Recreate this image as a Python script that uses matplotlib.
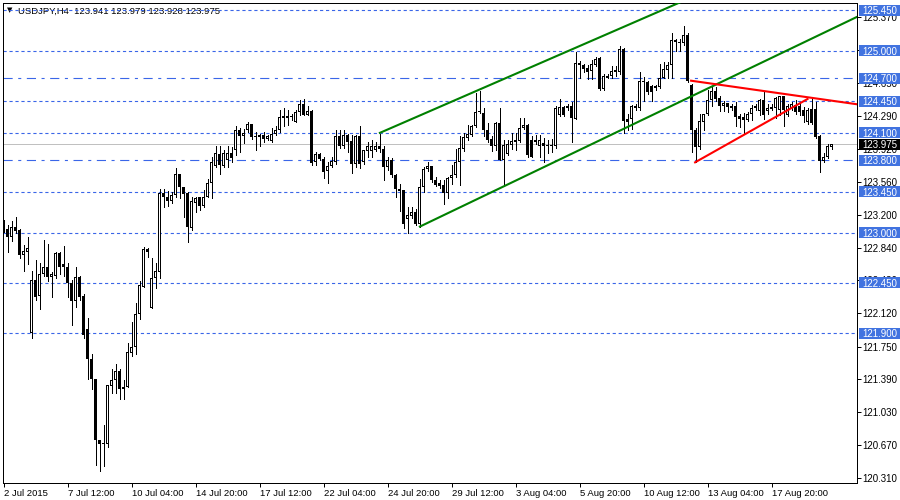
import matplotlib
matplotlib.use('Agg')
import matplotlib.pyplot as plt
from matplotlib.patches import Rectangle
import numpy as np

plt.rcParams['font.family'] = ['Liberation Sans', 'DejaVu Sans']
plt.rcParams['lines.scale_dashes'] = False

# ---------------- data (USDJPY H4) ----------------
opens = [123.12, 123.04, 122.95, 123.07, 123.03, 122.76, 122.79, 121.90, 122.48, 122.31,
         122.55, 122.63, 122.52, 122.53, 122.78, 122.66, 122.63, 122.45, 122.25, 122.52,
         122.31, 121.94, 121.61, 121.40, 120.73, 120.68, 120.68, 121.32, 121.38, 121.48,
         121.29, 121.31, 121.68, 121.75, 122.11, 122.41, 122.82, 122.17, 122.50, 122.57,
         123.44, 123.40, 123.35, 123.42, 123.65, 123.50, 123.44, 123.05, 123.33, 123.39,
         123.30, 123.40, 123.55, 123.74, 123.87, 123.74, 123.80, 123.88, 123.91, 124.13,
         124.06, 124.13, 124.20, 124.06, 124.05, 124.075, 124.03, 124.01, 124.09, 124.13,
         124.28, 124.28, 124.285, 124.22, 124.33, 124.42, 124.295, 124.34, 123.78, 123.87,
         123.81, 123.68, 123.74, 123.78, 124.06, 123.95, 124.075, 124.01, 123.76, 124.06,
         123.78, 123.90, 123.90, 123.91, 123.96, 123.92, 123.72, 123.80, 123.635, 123.48,
         123.47, 123.15, 123.19, 123.225, 123.10, 123.50, 123.70, 123.735, 123.58, 123.55,
         123.525, 123.44, 123.60, 123.635, 123.78, 123.92, 124.04, 124.075, 124.17, 124.34,
         124.32, 124.13, 124.03, 123.96, 124.21, 123.80, 123.87, 123.965, 124.00, 124.013,
         124.15, 124.185, 124.02, 124.02, 123.95, 123.99, 123.965, 123.95, 123.95, 124.295,
         124.38, 124.37, 124.39, 124.25, 124.87, 124.845, 124.81, 124.78, 124.845, 124.92,
         124.58, 124.72, 124.72, 124.79, 124.765, 125.02, 124.25, 124.25, 124.37, 124.37,
         124.67, 124.66, 124.61, 124.59, 124.60, 124.70, 124.79, 124.845, 125.115, 125.10,
         125.085, 125.18, 124.63, 124.13, 123.94, 124.22, 124.31, 124.46, 124.56, 124.48,
         124.39, 124.425, 124.37, 124.39, 124.285, 124.27, 124.24, 124.31, 124.37, 124.34,
         124.46, 124.34, 124.36, 124.37, 124.35, 124.50, 124.295, 124.375, 124.41, 124.39,
         124.35, 124.22, 124.36, 124.36, 124.06, 123.79, 123.84, 123.941]
highs = [123.14, 123.085, 123.13, 123.17, 123.04, 122.87, 122.96, 122.58, 122.70, 122.67,
         122.92, 122.88, 122.57, 122.79, 122.79, 122.86, 122.67, 122.48, 122.63, 122.53,
         122.33, 122.06, 121.67, 121.40, 120.73, 120.885, 121.325, 121.51, 121.56, 121.51,
         121.38, 121.79, 122.02, 122.23, 122.47, 122.85, 122.84, 122.73, 122.67, 123.48,
         123.48, 123.46, 123.45, 123.71, 123.65, 123.50, 123.45, 123.39, 123.40, 123.40,
         123.47, 123.59, 123.83, 123.96, 123.95, 123.91, 123.95, 123.94, 124.17, 124.15,
         124.14, 124.22, 124.20, 124.11, 124.085, 124.11, 124.075, 124.15, 124.17, 124.35,
         124.37, 124.35, 124.31, 124.35, 124.46, 124.47, 124.39, 124.35, 123.89, 123.88,
         123.84, 123.78, 123.84, 124.13, 124.13, 124.13, 124.09, 124.075, 124.075, 124.17,
         123.91, 124.00, 124.02, 124.00, 124.09, 123.95, 123.84, 123.82, 123.65, 123.54,
         123.47, 123.29, 123.28, 123.26, 123.59, 123.73, 123.775, 123.735, 123.62, 123.58,
         123.58, 123.62, 123.745, 123.92, 124.06, 124.10, 124.185, 124.185, 124.54, 124.56,
         124.37, 124.21, 124.06, 124.22, 124.37, 124.02, 124.02, 124.10, 124.10, 124.26,
         124.26, 124.20, 124.06, 124.075, 124.075, 124.04, 124.02, 124.03, 124.39, 124.47,
         124.39, 124.415, 124.44, 124.99, 124.89, 124.86, 124.845, 124.90, 124.93, 124.93,
         124.75, 124.75, 124.83, 124.83, 125.05, 125.03, 124.31, 124.405, 124.415, 124.77,
         124.71, 124.67, 124.625, 124.625, 124.86, 124.88, 124.88, 125.20, 125.13, 125.13,
         125.27, 125.20, 124.64, 124.15, 124.31, 124.31, 124.57, 124.61, 124.605, 124.50,
         124.45, 124.43, 124.415, 124.44, 124.31, 124.32, 124.33, 124.41, 124.415, 124.47,
         124.56, 124.415, 124.415, 124.49, 124.50, 124.50, 124.415, 124.44, 124.46, 124.43,
         124.38, 124.37, 124.48, 124.44, 124.075, 123.88, 123.98, 123.979]
lows = [123.01, 122.79, 122.91, 123.00, 122.73, 122.58, 122.66, 121.85, 122.26, 122.16,
        122.53, 122.47, 122.30, 122.51, 122.55, 122.53, 122.30, 121.99, 122.19, 122.26,
        121.85, 121.39, 121.29, 120.445, 120.38, 120.44, 120.65, 121.24, 121.24, 121.17,
        121.17, 121.31, 121.65, 121.67, 122.05, 122.41, 122.74, 122.17, 122.40, 122.51,
        123.28, 123.30, 123.33, 123.40, 123.38, 123.17, 122.90, 123.03, 123.23, 123.25,
        123.28, 123.39, 123.38, 123.72, 123.65, 123.72, 123.72, 123.78, 123.855, 123.89,
        123.99, 124.11, 124.03, 123.91, 123.95, 124.00, 124.02, 124.00, 124.075, 124.11,
        124.17, 124.185, 124.24, 124.22, 124.295, 124.295, 124.295, 123.745, 123.745, 123.80,
        123.60, 123.55, 123.73, 123.76, 123.93, 123.93, 123.89, 123.66, 123.73, 123.71,
        123.76, 123.84, 123.84, 123.90, 123.89, 123.58, 123.69, 123.62, 123.40, 123.24,
        123.05, 123.00, 123.16, 123.085, 123.07, 123.45, 123.68, 123.56, 123.52, 123.49,
        123.32, 123.38, 123.54, 123.62, 123.525, 123.90, 124.02, 124.06, 124.16, 124.32,
        124.06, 124.00, 123.90, 123.91, 123.80, 123.52, 123.855, 123.92, 123.91, 124.00,
        124.14, 123.84, 123.84, 123.98, 123.84, 123.78, 123.875, 123.89, 123.93, 124.29,
        124.285, 124.35, 124.00, 124.25, 124.70, 124.77, 124.69, 124.69, 124.84, 124.57,
        124.57, 124.70, 124.70, 124.72, 124.75, 124.10, 124.13, 124.14, 124.35, 124.35,
        124.45, 124.53, 124.45, 124.57, 124.59, 124.70, 124.70, 124.70, 125.00, 125.00,
        125.07, 124.66, 123.89, 123.775, 123.92, 124.13, 124.295, 124.39, 124.45, 124.34,
        124.34, 124.33, 124.35, 124.175, 124.16, 124.085, 124.23, 124.24, 124.35, 124.295,
        124.25, 124.305, 124.35, 124.26, 124.295, 124.17, 124.28, 124.35, 124.305, 124.30,
        124.215, 124.20, 124.20, 124.04, 123.67, 123.78, 123.82, 123.928]
closes = [123.02, 122.95, 123.07, 123.02, 122.76, 122.80, 122.83, 122.48, 122.30, 122.55,
          122.63, 122.52, 122.55, 122.78, 122.63, 122.63, 122.45, 122.25, 122.52, 122.30,
          121.875, 121.61, 121.40, 120.73, 120.68, 120.69, 121.325, 121.38, 121.48, 121.29,
          121.31, 121.69, 121.75, 122.11, 122.43, 122.82, 122.79, 122.50, 122.58, 123.44,
          123.40, 123.35, 123.415, 123.65, 123.50, 123.43, 123.06, 123.35, 123.38, 123.30,
          123.40, 123.55, 123.78, 123.88, 123.75, 123.88, 123.88, 123.82, 124.13, 124.06,
          124.10, 124.20, 124.05, 124.05, 124.075, 124.03, 124.06, 124.09, 124.13, 124.27,
          124.26, 124.26, 124.27, 124.33, 124.42, 124.295, 124.34, 123.77, 123.87, 123.81,
          123.67, 123.74, 123.79, 124.06, 123.95, 124.075, 124.00, 123.76, 124.06, 123.76,
          123.91, 123.96, 123.96, 123.96, 123.92, 123.72, 123.80, 123.635, 123.48, 123.46,
          123.10, 123.195, 123.225, 123.10, 123.50, 123.70, 123.735, 123.58, 123.525, 123.52,
          123.44, 123.60, 123.635, 123.78, 123.93, 124.05, 124.085, 124.17, 124.33, 124.325,
          124.13, 124.02, 123.96, 124.21, 123.80, 123.965, 123.975, 124.01, 124.02, 124.15,
          124.185, 123.855, 123.84, 124.00, 124.02, 123.95, 123.95, 123.965, 124.375, 124.38,
          124.30, 124.395, 124.26, 124.87, 124.845, 124.80, 124.77, 124.86, 124.91, 124.58,
          124.72, 124.70, 124.78, 124.765, 125.02, 124.23, 124.215, 124.39, 124.395, 124.67,
          124.66, 124.55, 124.55, 124.61, 124.70, 124.80, 124.845, 125.12, 125.095, 125.085,
          125.18, 124.67, 124.13, 123.94, 124.23, 124.31, 124.46, 124.56, 124.47, 124.39,
          124.43, 124.38, 124.39, 124.27, 124.25, 124.24, 124.31, 124.375, 124.39, 124.46,
          124.295, 124.37, 124.38, 124.48, 124.50, 124.35, 124.395, 124.415, 124.33, 124.33,
          124.29, 124.35, 124.21, 124.05, 123.79, 123.84, 123.95, 123.975]

x_tick_pos = [0, 16, 32, 48, 64, 80, 96, 112, 128, 144, 160, 176, 192]
x_tick_labels = ['2 Jul 2015', '7 Jul 12:00', '10 Jul 04:00', '14 Jul 20:00', '17 Jul 12:00',
                 '22 Jul 04:00', '24 Jul 20:00', '29 Jul 12:00', '3 Aug 04:00', '5 Aug 20:00',
                 '10 Aug 12:00', '13 Aug 04:00', '17 Aug 20:00']
y_ticks = [120.310, 120.670, 121.030, 121.390, 121.750, 122.120, 122.480, 122.840,
           123.200, 123.560, 123.920, 124.290, 124.650, 125.010, 125.370]

level_prices = [125.450, 125.000, 124.700, 124.450, 124.100, 123.800, 123.450, 123.000, 122.450, 121.900]
level_styles = ['dot', 'dot', 'dashdot', 'dot', 'dot', 'dashdot', 'dot', 'dot', 'dot', 'dot']
bid_price = 123.975

green_upper_x = [94.1, 213.4]
green_upper_y = [124.10, 126.38]
green_lower_x = [104.1, 213.4]
green_lower_y = [123.07, 125.375]
red_upper_x = [171.9, 213.4]
red_upper_y = [124.673, 124.414]
red_lower_x = [172.9, 201.0]
red_lower_y = [123.776, 124.472]

title = 'USDJPY,H4  123.941 123.979 123.928 123.975'

# ---------------- figure ----------------
BLUE = '#3A66E8'
FS = 6.8
PX = 1 / 91  # one pixel in price units
fig = plt.figure(figsize=(9, 5), dpi=100)
fig.patch.set_facecolor('white')
ax = fig.add_axes([3 / 900, 17 / 500, 854 / 900, 480 / 500])
ax.set_facecolor('white')
ax.set_xlim(-0.125, 213.375)
ax.set_ylim(120.252, 125.527)

for s in ax.spines.values():
    s.set_linewidth(0.72)
    s.set_color('black')

dash_styles = {'dot': (0, (2.3, 2.0)), 'dashdot': (0, (6.6, 4.0, 2.2, 4.0))}
for p, st in zip(level_prices, level_styles):
    ax.axhline(p, color=BLUE, linewidth=0.8, linestyle=dash_styles[st], zorder=2,
               antialiased=True, snap=True, dash_capstyle='butt')
ax.axhline(bid_price, color='#C0C0C0', linewidth=0.7, zorder=1.5, antialiased=False)

# candles
o = np.array(opens); h = np.array(highs); l = np.array(lows); c = np.array(closes)
idx = np.arange(len(o))
ax.vlines(idx, l, h, color='black', linewidth=0.72, zorder=3, antialiased=False)
up = c >= o
bottom = np.minimum(o, c)
height = np.maximum(np.abs(c - o), PX)
ax.bar(idx, height, bottom=bottom, width=0.75, color='black', linewidth=0,
       zorder=4, antialiased=False)
hollow = up & (height > 2.5 * PX)
ax.bar(idx[hollow], height[hollow] - 2 * PX, bottom=bottom[hollow] + PX, width=0.25,
       color='white', linewidth=0, zorder=4.5, antialiased=False)

# trendlines
ax.plot(green_upper_x, green_upper_y, color='#008000', linewidth=1.5, zorder=5)
ax.plot(green_lower_x, green_lower_y, color='#008000', linewidth=1.5, zorder=5)
ax.plot(red_upper_x, red_upper_y, color='#FF0000', linewidth=1.5, zorder=5)
ax.plot(red_lower_x, red_lower_y, color='#FF0000', linewidth=1.5, zorder=5)

# axes ticks
ax.set_xticks(x_tick_pos)
ax.set_xticklabels(x_tick_labels, ha='left', fontsize=FS)
ax.tick_params(axis='x', length=3, width=0.72, pad=1, direction='out')
ax.yaxis.tick_right()
ax.set_yticks(y_ticks)
ax.set_yticklabels([f'{v:.3f}' for v in y_ticks], fontsize=7.0)
ax.tick_params(axis='y', length=3, width=0.72, pad=1, direction='out')

# price labels
ytr = ax.get_yaxis_transform()
lab_h = 11 * PX
for p in level_prices:
    ax.add_patch(Rectangle((1.0023, p - lab_h / 2), 0.06, lab_h, transform=ytr,
                           facecolor='#4173E0', edgecolor='none', clip_on=False, zorder=10))
    ax.text(1.0059, p, f'{p:.3f}', transform=ytr, color='white', fontsize=7.0,
            va='center_baseline', ha='left', zorder=11, clip_on=False)
ax.add_patch(Rectangle((1.0023, bid_price - lab_h / 2), 0.06, lab_h, transform=ytr,
                       facecolor='black', edgecolor='none', clip_on=False, zorder=10))
ax.text(1.0059, bid_price, f'{bid_price:.3f}', transform=ytr, color='white', fontsize=7.0,
        va='center_baseline', ha='left', zorder=11, clip_on=False)

# title
ax.text(3.5 / 854, 125.45, '\u25BC', transform=ytr, fontsize=5, va='center_baseline',
        ha='left', color='black', zorder=1, family=['DejaVu Sans'])
ax.text(15.5 / 854, 125.45, title, transform=ytr, fontsize=FS, va='center_baseline',
        ha='left', color='black', zorder=1)

fig.savefig('out.png', dpi=100)
